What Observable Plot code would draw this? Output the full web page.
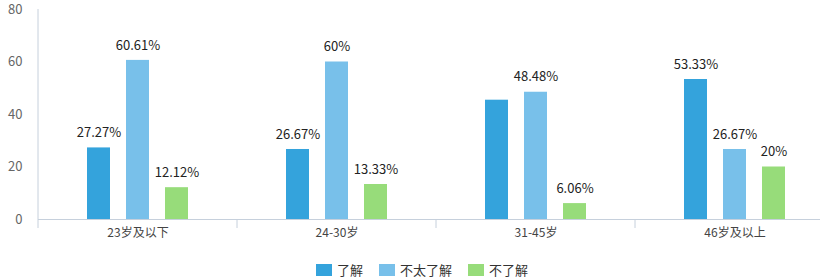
<!DOCTYPE html>
<html><head><meta charset="utf-8">
<script src="https://cdn.jsdelivr.net/npm/d3@7"></script>
<script src="https://cdn.jsdelivr.net/npm/@observablehq/plot@0.6"></script>
<style>
html,body{margin:0;padding:0;background:#fff;overflow:hidden;}
body{font-family:"Noto Sans CJK SC","Noto Sans",sans-serif;width:820px;height:279px;position:relative;}
#legend{position:absolute;left:316px;top:260px;display:flex;align-items:center;font-size:13px;color:#333;}
#legend .item{display:flex;align-items:center;margin-right:16px;}
#legend .sw{width:16px;height:12px;margin-right:5px;}
</style></head>
<body>
<div id="chart"></div>
<div id="legend"></div>
<script>
const groups = ["23岁及以下", "24-30岁", "31-45岁", "46岁及以上"];
const series = ["了解", "不太了解", "不了解"];
const colors = ["#34a3dc", "#78c0ea", "#97dc7a"];
const valuesLiaojie = [27.27, 26.67, 45.45, 53.33];
const valuesButai = [60.61, 60, 48.48, 26.67];
const valuesBu = [12.12, 13.33, 6.06, 20];
const yTicks = [0, 20, 40, 60, 80];
// value labels shown in the reference (null = not shown)
const labelsLiaojie = ["27.27%", "26.67%", null, "53.33%"];
const labelsButai = ["60.61%", "60%", "48.48%", "26.67%"];
const labelsBu = ["12.12%", "13.33%", "6.06%", "20%"];

const seriesValues = [valuesLiaojie, valuesButai, valuesBu];
const seriesLabels = [labelsLiaojie, labelsButai, labelsBu];
const data = [];
groups.forEach((g, gi) => series.forEach((s, si) => {
  data.push({group: g, series: s, value: seriesValues[si][gi], label: seriesLabels[si][gi]});
}));

const plot = Plot.plot({
  width: 820,
  height: 245,
  marginLeft: 37,
  marginRight: -14,
  marginTop: 9,
  marginBottom: 26,
  style: {fontFamily: '"Noto Sans CJK SC","Noto Sans",sans-serif', background: "transparent", overflow: "visible"},
  fx: {domain: groups, padding: 0},
  x: {domain: series, paddingInner: 0.4, paddingOuter: 1.19, axis: null},
  y: {domain: [0, 80]},
  color: {domain: series, range: colors},
  marks: [
    Plot.axisY({ticks: yTicks, tickSize: 0, tickPadding: 16, fontSize: 13, fill: "#666", label: null}),
    Plot.axisFx({anchor: "bottom", tickSize: 0, tickPadding: 9, fontSize: 12, fill: "#444", label: null}),
    Plot.ruleY([0], {stroke: "#c6d0dc", strokeWidth: 1}),
    Plot.barY(data, {fx: "group", x: "series", y: "value", fill: "series"}),
    Plot.text(data.filter(d => d.label), {fx: "group", x: "series", y: "value", text: "label", dy: -15, fontSize: 13, fill: "#222"})
  ]
});

// axis lines and boundary ticks using the plot's own scales
const fx = plot.scale("fx"), y = plot.scale("y");
const svg = d3.select(plot);
const y0 = y.apply(0), yTop = y.apply(80);
const left = fx.apply(groups[0]);
svg.append("line").attr("x1", left).attr("x2", left).attr("y1", yTop).attr("y2", y0 + 9)
  .attr("stroke", "#c6d0dc");
groups.slice(1).forEach(g => {
  const xb = fx.apply(g);
  svg.append("line").attr("x1", xb).attr("x2", xb).attr("y1", y0).attr("y2", y0 + 9).attr("stroke", "#c6d0dc");
});
document.getElementById("chart").appendChild(plot);

const legend = document.getElementById("legend");
series.forEach((s, i) => {
  const it = document.createElement("div"); it.className = "item";
  const sw = document.createElement("div"); sw.className = "sw"; sw.style.background = colors[i];
  const t = document.createElement("span"); t.textContent = s;
  it.appendChild(sw); it.appendChild(t); legend.appendChild(it);
});
</script>
</body></html>
